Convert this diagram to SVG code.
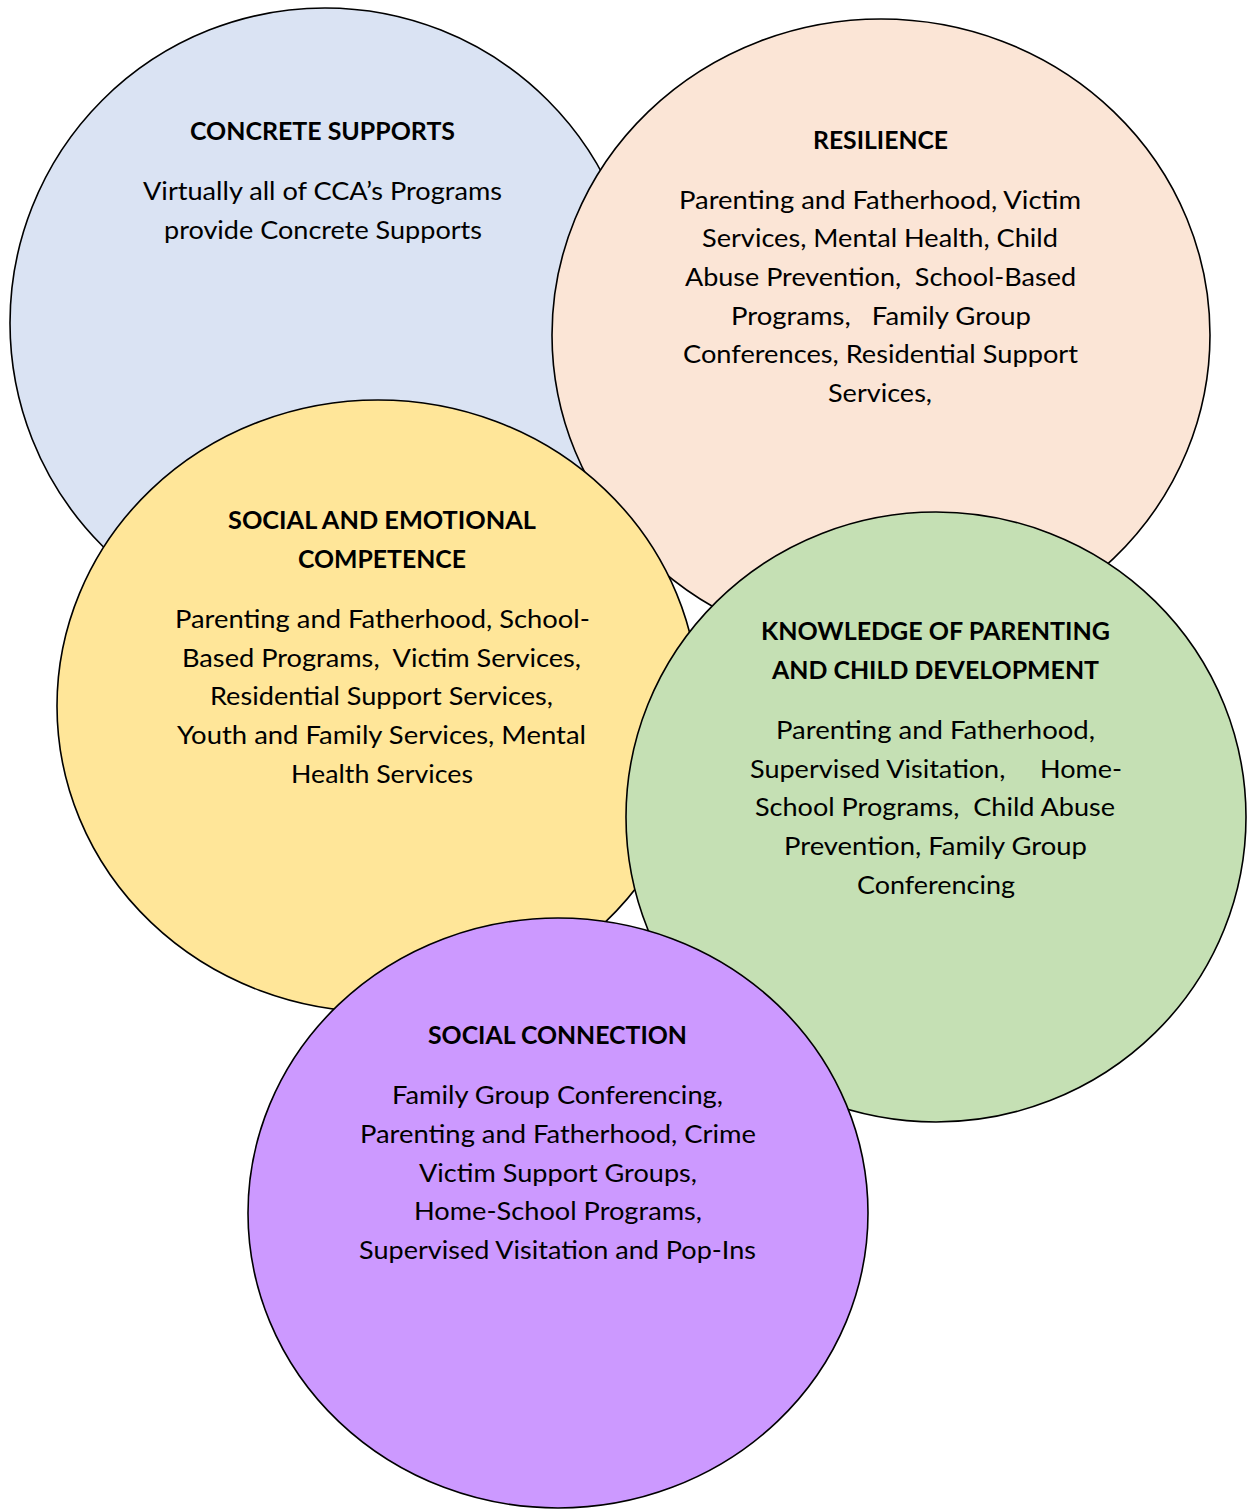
<svg xmlns="http://www.w3.org/2000/svg" width="1247" height="1510" viewBox="0 0 1247 1510">
<style>
.c{stroke:#000;stroke-width:1.6}
text{font-family:Lato,"Open Sans","Liberation Sans",sans-serif;font-size:25px;fill:#000;text-anchor:middle;white-space:pre}
.h{font-weight:bold}
</style>
<rect width="1247" height="1510" fill="#fff"/>
<g id="concrete-supports">
<ellipse class="c" cx="325" cy="323" rx="315" ry="315" fill="#DAE3F3"/>
<text class="h" x="322.5" y="140" textLength="265" lengthAdjust="spacingAndGlyphs">CONCRETE SUPPORTS</text>
<text x="322.5" y="200" textLength="359" lengthAdjust="spacingAndGlyphs">Virtually all of CCA’s Programs</text>
<text x="323" y="239" textLength="318" lengthAdjust="spacingAndGlyphs">provide Concrete Supports</text>
</g>
<g id="resilience">
<ellipse class="c" cx="881" cy="335" rx="329" ry="316" fill="#FBE5D6"/>
<text class="h" x="880.5" y="149" textLength="135" lengthAdjust="spacingAndGlyphs">RESILIENCE</text>
<text x="880" y="209" textLength="402" lengthAdjust="spacingAndGlyphs">Parenting and Fatherhood, Victim</text>
<text x="880" y="247" textLength="356" lengthAdjust="spacingAndGlyphs">Services, Mental Health, Child</text>
<text x="880.5" y="286" textLength="391" lengthAdjust="spacingAndGlyphs">Abuse Prevention,  School-Based</text>
<text x="881" y="325" textLength="300" lengthAdjust="spacingAndGlyphs">Programs,   Family Group</text>
<text x="880.5" y="363" textLength="395" lengthAdjust="spacingAndGlyphs">Conferences, Residential Support</text>
<text x="880" y="402" textLength="104" lengthAdjust="spacingAndGlyphs">Services,</text>
</g>
<g id="social-emotional">
<ellipse class="c" cx="378" cy="706" rx="321" ry="306" fill="#FFE699"/>
<text class="h" x="382" y="529" textLength="308" lengthAdjust="spacingAndGlyphs">SOCIAL AND EMOTIONAL</text>
<text class="h" x="382" y="568" textLength="168" lengthAdjust="spacingAndGlyphs">COMPETENCE</text>
<text x="382.5" y="628" textLength="415" lengthAdjust="spacingAndGlyphs">Parenting and Fatherhood, School-</text>
<text x="381.5" y="667" textLength="399" lengthAdjust="spacingAndGlyphs">Based Programs,  Victim Services,</text>
<text x="381.5" y="705" textLength="343" lengthAdjust="spacingAndGlyphs">Residential Support Services,</text>
<text x="381.5" y="744" textLength="409" lengthAdjust="spacingAndGlyphs">Youth and Family Services, Mental</text>
<text x="382" y="783" textLength="182" lengthAdjust="spacingAndGlyphs">Health Services</text>
</g>
<g id="knowledge">
<ellipse class="c" cx="936" cy="817" rx="310" ry="305" fill="#C5E0B4"/>
<text class="h" x="935.5" y="640" textLength="349" lengthAdjust="spacingAndGlyphs">KNOWLEDGE OF PARENTING</text>
<text class="h" x="935.5" y="679" textLength="327" lengthAdjust="spacingAndGlyphs">AND CHILD DEVELOPMENT</text>
<text x="935.5" y="739" textLength="319" lengthAdjust="spacingAndGlyphs">Parenting and Fatherhood,</text>
<text x="936" y="778" textLength="372" lengthAdjust="spacingAndGlyphs">Supervised Visitation,     Home-</text>
<text x="935" y="816" textLength="360" lengthAdjust="spacingAndGlyphs">School Programs,  Child Abuse</text>
<text x="935.5" y="855" textLength="303" lengthAdjust="spacingAndGlyphs">Prevention, Family Group</text>
<text x="936" y="894" textLength="158" lengthAdjust="spacingAndGlyphs">Conferencing</text>
</g>
<g id="social-connection">
<ellipse class="c" cx="558" cy="1213" rx="310" ry="295" fill="#CC99FF"/>
<text class="h" x="557.5" y="1044" textLength="259" lengthAdjust="spacingAndGlyphs">SOCIAL CONNECTION</text>
<text x="557.5" y="1104" textLength="331" lengthAdjust="spacingAndGlyphs">Family Group Conferencing,</text>
<text x="558" y="1143" textLength="396" lengthAdjust="spacingAndGlyphs">Parenting and Fatherhood, Crime</text>
<text x="558" y="1182" textLength="278" lengthAdjust="spacingAndGlyphs">Victim Support Groups,</text>
<text x="558" y="1220" textLength="288" lengthAdjust="spacingAndGlyphs">Home-School Programs,</text>
<text x="557.5" y="1259" textLength="397" lengthAdjust="spacingAndGlyphs">Supervised Visitation and Pop-Ins</text>
</g>
<g id="connectors"/>
</svg>
